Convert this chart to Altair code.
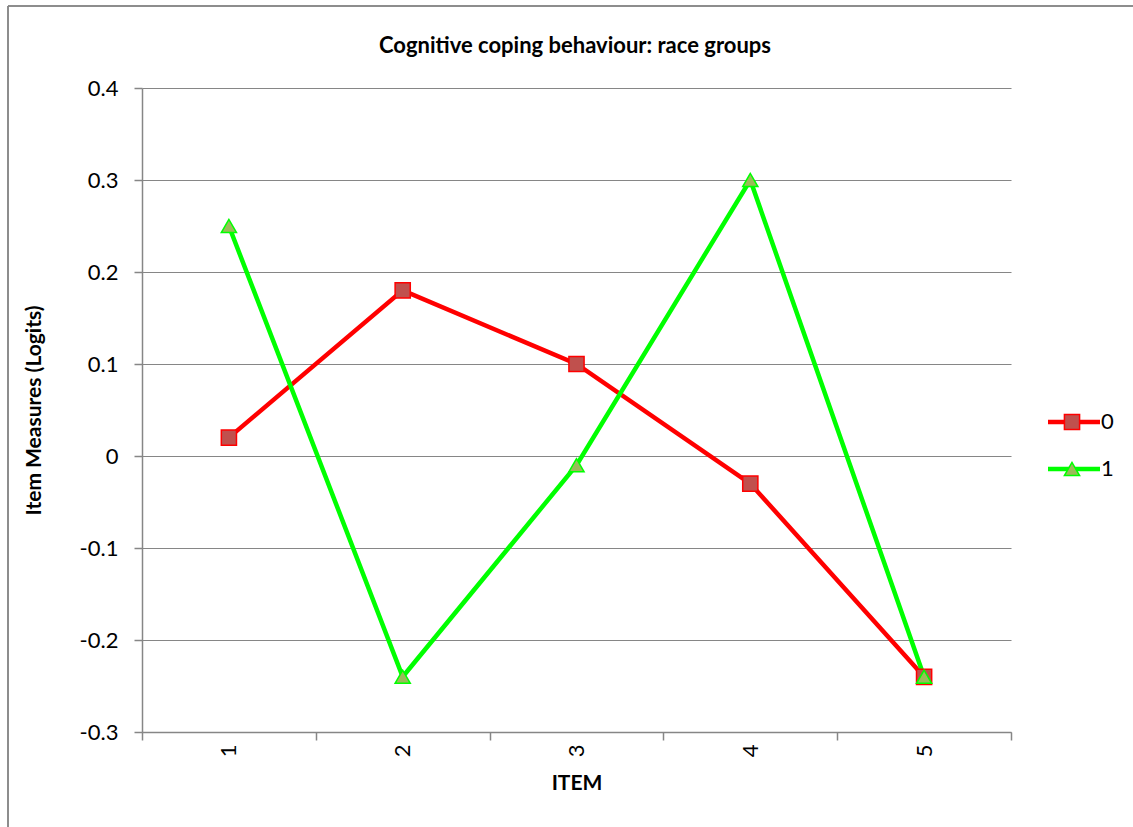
import altair as alt
import pandas as pd

# Item measures (logits) for each race group
items = ["1", "2", "3", "4", "5"]
series_names = ["0", "1"]
group_0 = [0.02, 0.18, 0.10, -0.03, -0.24]
group_1 = [0.25, -0.24, -0.01, 0.30, -0.24]
y_ticks = [-0.3, -0.2, -0.1, 0.0, 0.1, 0.2, 0.3, 0.4]
chart_title = "Cognitive coping behaviour: race groups"

line_colors = ["#FF0000", "#00FF00"]
marker_fills = ["#C0504D", "#9BBB59"]
marker_shapes = ["square", "triangle-up"]

rows = []
for name, values in zip(series_names, [group_0, group_1]):
    for item, v in zip(items, values):
        rows.append({"item": item, "series": name, "measure": v})
df = pd.DataFrame(rows)
legend_df = pd.DataFrame({"series": series_names})
title_df = pd.DataFrame({"title": [chart_title]})

FONT = "Lato"
GRID = "#868686"
TEXT_SIZE = 21
LABEL_SIZE = 22

stroke_scale = alt.Scale(domain=series_names, range=line_colors)
fill_scale = alt.Scale(domain=series_names, range=marker_fills)
shape_scale = alt.Scale(domain=series_names, range=marker_shapes)

x_enc = alt.X(
    "item:O",
    sort=items,
    scale=alt.Scale(type="band", paddingInner=0, paddingOuter=0),
    axis=alt.Axis(
        title="ITEM",
        titleFontSize=TEXT_SIZE,
        titleFontWeight="bold",
        titleColor="#000000",
        titlePadding=16,
        labelAngle=270,
        labelFontSize=LABEL_SIZE,
        labelColor="#000000",
        labelPadding=4,
        tickBand="extent",
        tickSize=8,
        tickColor=GRID,
        domainColor=GRID,
        domainWidth=1.5,
        tickWidth=1.5,
        grid=False,
    ),
)
y_enc = alt.Y(
    "measure:Q",
    scale=alt.Scale(domain=[-0.3, 0.4], nice=False, zero=False),
    axis=alt.Axis(
        title="Item Measures (Logits)",
        titleFontSize=TEXT_SIZE,
        titleFontWeight="bold",
        titleColor="#000000",
        titlePadding=35,
        values=y_ticks,
        labelExpr="toString(round(datum.value * 10) / 10)",
        labelFontSize=LABEL_SIZE,
        labelColor="#000000",
        labelPadding=16,
        tickSize=8,
        tickColor=GRID,
        domainColor=GRID,
        domainWidth=1.5,
        tickWidth=1.5,
        gridColor=GRID,
        gridWidth=1.2,
    ),
)

lines = alt.Chart(df).mark_line(strokeWidth=4.5).encode(
    x=x_enc,
    y=y_enc,
    stroke=alt.Stroke("series:N", scale=stroke_scale, legend=None),
    detail="series:N",
)

points = alt.Chart(df).mark_point(filled=True, size=230, strokeWidth=1.5, opacity=1).encode(
    x=x_enc,
    y=y_enc,
    fill=alt.Fill("series:N", scale=fill_scale, legend=None),
    stroke=alt.Stroke("series:N", scale=stroke_scale, legend=None),
    shape=alt.Shape("series:N", scale=shape_scale, legend=None),
)


def legend_entry(name, row_y):
    """A short line, a marker and the series name, to the right of the plot."""
    base = alt.Chart(legend_df).transform_filter(alt.datum.series == name)
    line = base.mark_rule(strokeWidth=4.5).encode(
        x=alt.value(906),
        x2=alt.value(958),
        y=alt.value(row_y),
        stroke=alt.Stroke("series:N", scale=stroke_scale, legend=None),
    )
    mark = base.mark_point(filled=True, size=230, strokeWidth=1.5, opacity=1).encode(
        x=alt.value(930),
        y=alt.value(row_y),
        fill=alt.Fill("series:N", scale=fill_scale, legend=None),
        stroke=alt.Stroke("series:N", scale=stroke_scale, legend=None),
        shape=alt.Shape("series:N", scale=shape_scale, legend=None),
    )
    label = base.mark_text(
        align="left", baseline="middle", fontSize=LABEL_SIZE, font=FONT, color="#000000"
    ).encode(
        x=alt.value(959),
        y=alt.value(row_y),
        text="series:N",
    )
    return [line, mark, label]


legend_layers = legend_entry("0", 334) + legend_entry("1", 381)

# Chart title, centred over the plot area
title_text = alt.Chart(title_df).mark_text(
    align="center", baseline="middle", fontSize=22, fontWeight="bold",
    font=FONT, color="#000000",
).encode(x=alt.value(433), y=alt.value(-42), text="title:N")

# Outer frame of the chart area
frame_top = alt.Chart(legend_df).mark_rule(color=GRID, strokeWidth=1.5).encode(
    x=alt.value(-134), x2=alt.value(1000), y=alt.value(-82)
)
frame_left = alt.Chart(legend_df).mark_rule(color=GRID, strokeWidth=1.5).encode(
    x=alt.value(-134), y=alt.value(-82), y2=alt.value(760)
)

chart = (
    alt.layer(frame_top, frame_left, title_text, lines, points, *legend_layers)
    .properties(
        width=869,
        height=644,
        padding={"left": 142, "top": 88, "right": 122, "bottom": 95},
        autosize=alt.AutoSizeParams(type="none"),
    )
    .configure(font=FONT)
    .configure_view(stroke=None)
)

chart.save("out.html", embed_options={"renderer": "svg", "actions": False})
